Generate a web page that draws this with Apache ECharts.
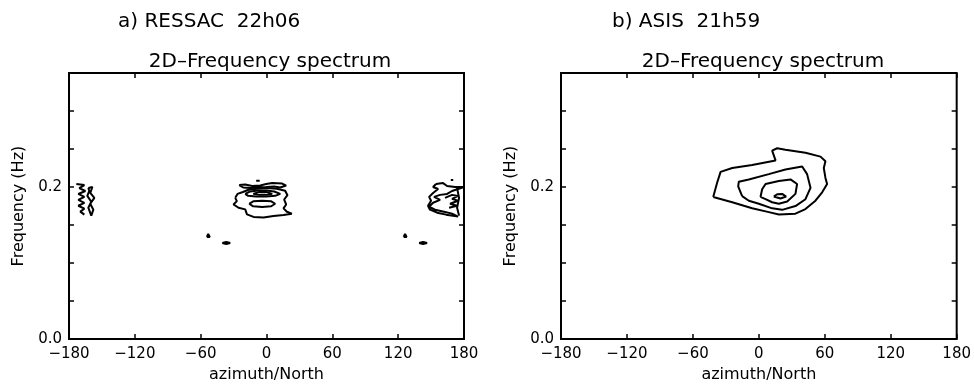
<!DOCTYPE html>
<html>
<head>
<meta charset="utf-8">
<script src="https://cdn.jsdelivr.net/npm/echarts@6/dist/echarts.min.js"></script>
<style>html,body{margin:0;padding:0;background:#fff}#c{width:974px;height:388px}</style>
</head>
<body>
<div id="c"></div>
<script>
// ---------- tick labels ----------
var xTickValues = [-180, -120, -60, 0, 60, 120, 180];
var xTickLabels = ['\u2212180', '\u2212120', '\u221260', '0', '60', '120', '180'];
var yTickValues = [0, 0.05, 0.10, 0.15, 0.20, 0.25, 0.30, 0.35];
var yTickLabels = ['0.0', '', '', '', '0.2', '', '', ''];

var panelTitles = ['a) RESSAC  22h06', 'b) ASIS  21h59'];
var plotTitle = '2D\u2013Frequency spectrum';
var xName = 'azimuth/North';
var yName = 'Frequency (Hz)';

// ---------- panel a (RESSAC) contours: [azimuth, frequency] ----------
var aOuter = [[-28.5,0.1858],[-26.4,0.1910],[-21.5,0.1935],[-16.4,0.1965],[-8.7,0.1978],[0.4,0.1987],[9.5,0.1978],[17.0,0.1952],[19.1,0.1893],[16.1,0.1836],[17.9,0.1771],[15.5,0.1719],[18.6,0.1675],[23.1,0.1650],[15.5,0.1633],[6.4,0.1620],[-2.7,0.1598],[-11.8,0.1607],[-17.8,0.1641],[-19.4,0.1706],[-25.5,0.1728],[-30.1,0.1771],[-27.0,0.1815],[-28.5,0.1858]];
var aUpper = [[-24.9,0.2026],[-19.4,0.2033],[-13.0,0.2013],[-5.7,0.2020],[-0.3,0.2039],[5.2,0.2052],[14.3,0.2046],[17.9,0.2020],[12.5,0.1994],[7.0,0.2007],[-0.3,0.2000],[-7.6,0.1994],[-14.8,0.1987],[-21.2,0.1994],[-24.9,0.2026]];
var aCircle = [[-9.4,0.2082],[-7.8,0.2105],[-6.2,0.2082],[-7.8,0.2059],[-9.4,0.2082]];
var aRing = [[-19.4,0.1910],[-14.8,0.1942],[-7.6,0.1955],[-0.3,0.1955],[7.0,0.1942],[12.5,0.1910],[7.9,0.1884],[-0.3,0.1877],[-9.4,0.1877],[-16.7,0.1884],[-19.4,0.1910]];
var aPeak = [[-12.1,0.1910],[-6.6,0.1936],[-0.3,0.1936],[5.2,0.1910],[-0.3,0.1897],[-6.6,0.1897],[-12.1,0.1910]];
var aLower = [[-15.8,0.1780],[-12.1,0.1812],[-3.9,0.1821],[4.3,0.1812],[7.9,0.1780],[4.3,0.1747],[-3.9,0.1738],[-12.1,0.1747],[-15.8,0.1780]];
var aDot1 = [[-54.4,0.1344],[-53.1,0.1383],[-51.7,0.1344],[-54.4,0.1344]];
var aDot2 = [[-40.3,0.1265],[-36.7,0.1278],[-33.1,0.1265],[-36.7,0.1252],[-40.3,0.1265]];
var aDot3 = [[125.0,0.1344],[126.3,0.1383],[127.7,0.1344],[125.0,0.1344]];
var aDot4 = [[139.1,0.1265],[142.7,0.1278],[146.3,0.1265],[142.7,0.1252],[139.1,0.1265]];
var aLeftA = [[-173.3,0.2039],[-166.0,0.2026],[-170.6,0.1987],[-165.1,0.1948],[-171.5,0.1909],[-166.0,0.1871],[-171.5,0.1832],[-166.0,0.1793],[-171.5,0.1754],[-166.0,0.1715],[-169.7,0.1676],[-166.0,0.1637]];
var aLeftB = [[-162.4,0.1987],[-158.7,0.2000],[-160.6,0.1922],[-156.9,0.1858],[-160.6,0.1780],[-157.8,0.1702],[-159.7,0.1624],[-161.5,0.1624],[-162.4,0.1728],[-159.7,0.1806],[-163.3,0.1884],[-161.5,0.1948],[-162.4,0.1987]];
var aRightA = [[154.5,0.2039],[160.9,0.2052],[164.6,0.2013],[171.9,0.2000],[180,0.2000],[169.1,0.1948],[164.6,0.1909],[158.2,0.1897],[152.7,0.1871],[158.2,0.1832],[151.8,0.1793],[148.2,0.1741],[153.6,0.1702],[161.8,0.1676],[169.1,0.1650],[174.6,0.1611],[172.8,0.1598],[163.7,0.1637],[155.5,0.1663],[149.0,0.1702],[147.2,0.1754],[150.0,0.1819],[148.2,0.1871],[151.8,0.1922],[156.4,0.1974],[151.8,0.2000],[154.5,0.2039]];
var aRightB = [[162.7,0.1858],[169.1,0.1897],[174.6,0.1884],[169.1,0.1845],[174.6,0.1819],[167.3,0.1780],[173.7,0.1754],[166.4,0.1728]];
var aRightC = [[173.7,0.1987],[175.5,0.1858],[173.7,0.1728],[175.5,0.1624]];
var aRightDot = [[168.0,0.2091],[169.1,0.2107],[170.2,0.2091],[169.1,0.2075],[168.0,0.2091]];

// ---------- panel b (ASIS) contours ----------
var bLevel1 = [[-41.5,0.187],[-37.9,0.206],[-34.8,0.220],[-24.2,0.225],[-6.1,0.229],[15.2,0.235],[12.1,0.248],[16.7,0.251],[24.2,0.249],[42.4,0.245],[56.1,0.240],[60.6,0.234],[59.1,0.225],[60.6,0.212],[62.1,0.204],[57.6,0.193],[51.5,0.182],[42.4,0.171],[33.3,0.165],[18.2,0.164],[9.1,0.167],[-6.1,0.172],[-24.2,0.180],[-41.5,0.187]];
var bLevel2 = [[-15.2,0.188],[-18.8,0.201],[-18.2,0.207],[-9.1,0.210],[9.1,0.217],[24.2,0.223],[39.4,0.227],[43.9,0.217],[47.0,0.199],[42.4,0.184],[33.3,0.175],[21.2,0.170],[12.1,0.172],[0,0.178],[-9.1,0.182],[-15.2,0.188]];
var bLevel3 = [[1.5,0.187],[3.0,0.197],[6.1,0.204],[18.2,0.208],[28.8,0.210],[34.8,0.204],[33.3,0.191],[25.8,0.181],[18.2,0.178],[12.1,0.180],[6.1,0.184],[1.5,0.187]];
var bLevel4 = [[13.6,0.1875],[16.7,0.1905],[21.2,0.1910],[24.8,0.1875],[19.7,0.1850],[13.6,0.1875]];

var panelA = [aOuter, aUpper, aCircle, aRing, aPeak, aLower, aDot1, aDot2, aDot3, aDot4, aLeftA, aLeftB, aRightA, aRightB, aRightC, aRightDot];
var panelB = [bLevel1, bLevel2, bLevel3, bLevel4];

var FONT = 'DejaVu Sans';
var grids = [
  {left: 69, top: 73, width: 395, height: 270},
  {left: 561, top: 73, width: 396, height: 270}
];

function xAx(g, top) {
  return {
    type: 'value', gridIndex: g, position: top ? 'top' : 'bottom',
    min: -180, max: 180, interval: 60,
    name: top ? '' : xName, nameLocation: 'middle', nameGap: 27,
    nameTextStyle: {fontFamily: FONT, fontSize: 16, color: '#000'},
    axisLine: {show: false, onZero: false},
    axisTick: {show: true, inside: true, length: 5, lineStyle: {color: '#000', width: 1.5}},
    axisLabel: {show: !top, margin: 8, fontFamily: FONT, fontSize: 15, color: '#000',
      formatter: function (v) { var i = xTickValues.indexOf(Math.round(v)); return i >= 0 ? xTickLabels[i] : ''; }},
    splitLine: {show: false}
  };
}
function yAx(g, right) {
  return {
    type: 'value', gridIndex: g, position: right ? 'right' : 'left',
    min: 0, max: 0.35, interval: 0.05,
    name: right ? '' : yName, nameLocation: 'middle', nameGap: 42,
    nameTextStyle: {fontFamily: FONT, fontSize: 16, color: '#000'},
    axisLine: {show: false, onZero: false},
    axisTick: {show: true, inside: true, length: 5, lineStyle: {color: '#000', width: 1.5}},
    axisLabel: {show: !right, margin: 7, fontFamily: FONT, fontSize: 15, color: '#000',
      formatter: function (v) {
        for (var i = 0; i < yTickValues.length; i++) if (Math.abs(yTickValues[i] - v) < 1e-6) return yTickLabels[i];
        return '';
      }},
    splitLine: {show: false}
  };
}

var series = [];
panelA.forEach(function (d) {
  series.push({type: 'line', xAxisIndex: 0, yAxisIndex: 0, data: d, showSymbol: false, symbol: 'none',
    lineStyle: {color: '#000', width: 2}, silent: true, animation: false, clip: true});
});
panelB.forEach(function (d) {
  series.push({type: 'line', xAxisIndex: 2, yAxisIndex: 2, data: d, showSymbol: false, symbol: 'none',
    lineStyle: {color: '#000', width: 2}, silent: true, animation: false, clip: true});
});

var graphics = [
  {type: 'text', x: 118, y: 22, style: {text: panelTitles[0], font: '20px "DejaVu Sans"', fill: '#000', align: 'left', verticalAlign: 'middle'}},
  {type: 'text', x: 612, y: 22, style: {text: panelTitles[1], font: '20px "DejaVu Sans"', fill: '#000', align: 'left', verticalAlign: 'middle'}},
  {type: 'text', x: 270, y: 62, style: {text: plotTitle, font: '20px "DejaVu Sans"', fill: '#000', align: 'center', verticalAlign: 'middle'}},
  {type: 'text', x: 763, y: 62, style: {text: plotTitle, font: '20px "DejaVu Sans"', fill: '#000', align: 'center', verticalAlign: 'middle'}}
];

var chart = echarts.init(document.getElementById('c'), null, {renderer: 'canvas'});
chart.setOption({
  animation: false,
  backgroundColor: '#fff',
  grid: grids.map(function (g) { return Object.assign({show: true, borderColor: '#000', borderWidth: 2, backgroundColor: 'transparent'}, g); }),
  xAxis: [xAx(0, false), xAx(0, true), xAx(1, false), xAx(1, true)],
  yAxis: [yAx(0, false), yAx(0, true), yAx(1, false), yAx(1, true)],
  series: series,
  graphic: graphics
});
</script>
</body>
</html>
